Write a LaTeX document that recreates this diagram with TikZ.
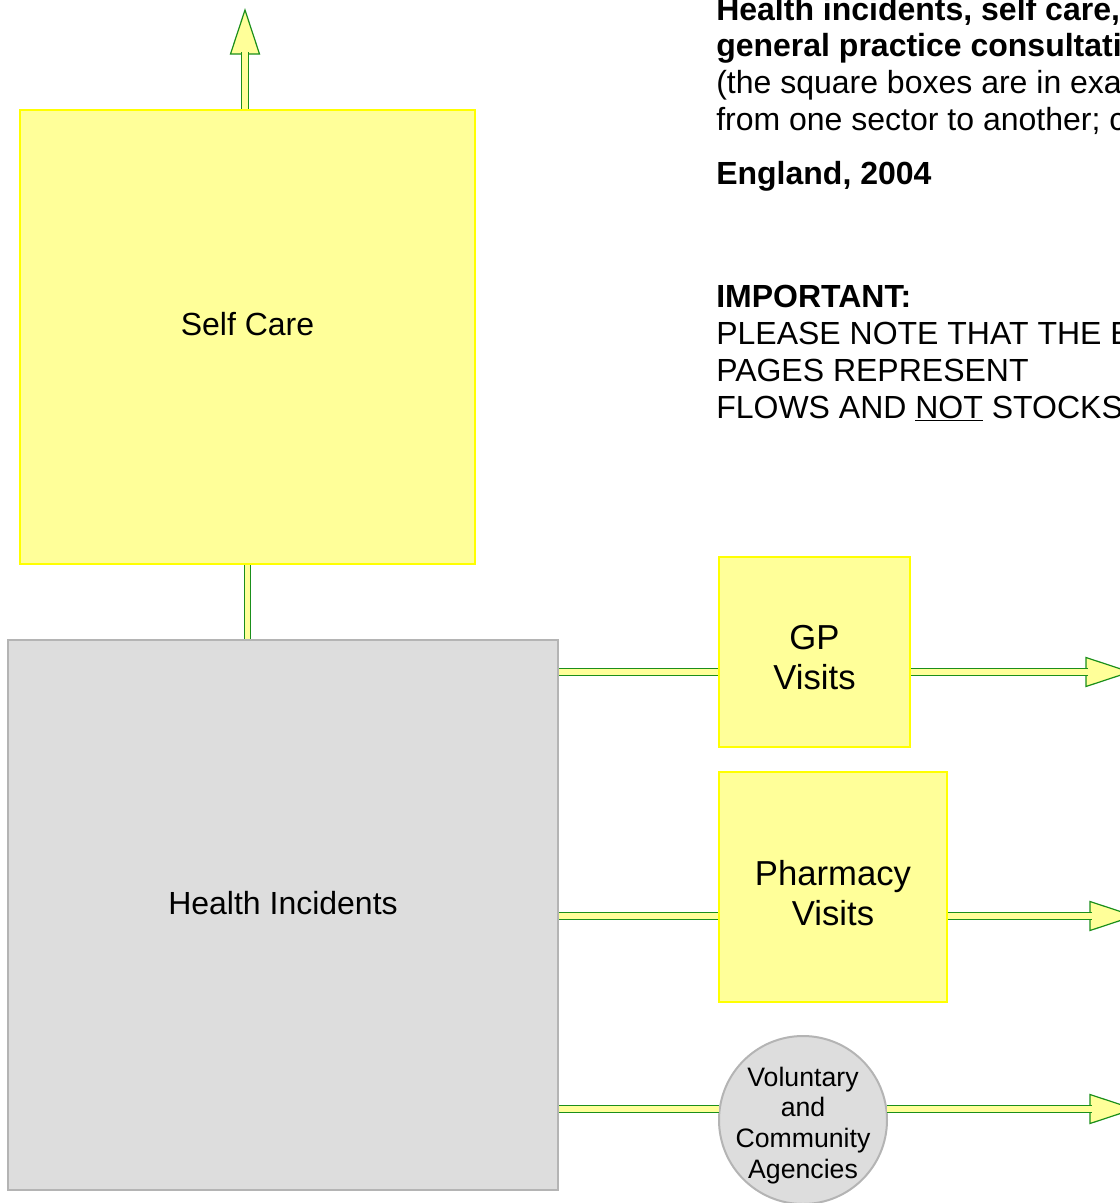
\documentclass[tikz,border=0pt]{standalone}
\usepackage{fontspec}
\setmainfont{Liberation Sans}
\definecolor{boxyellow}{HTML}{FFFF99}
\definecolor{edgeyellow}{HTML}{FFFF00}
\definecolor{boxgrey}{HTML}{DDDDDD}
\definecolor{edgegrey}{HTML}{B4B4B4}
\definecolor{flowgreen}{HTML}{1B8F1B}

\tikzset{
  sectorbox/.style={draw=edgeyellow, fill=boxyellow, line width=1.5pt, inner sep=0pt},
  incidentbox/.style={draw=edgegrey, fill=boxgrey, line width=1.5pt, inner sep=0pt},
  flow/.style={draw=flowgreen, double=boxyellow, line width=0.75pt, double distance=3.9pt},
  flowhead/.pic={\filldraw[draw=flowgreen, fill=boxyellow, line width=0.9pt] (-2,14.5) -- (42,0) -- (-2,-14.5) -- cycle;},
  bigtxt/.style={font=\fontsize{24}{28}\selectfont},
  midtxt/.style={font=\fontsize{26}{30}\selectfont, align=center},
  smalltxt/.style={font=\fontsize{20}{23}\selectfont, align=center},
  notetxt/.style={font=\fontsize{24}{27.4}\selectfont, align=left, anchor=base west, inner sep=0pt},
}

\begin{document}
\begin{tikzpicture}[x=0.75pt, y=-0.75pt]
  \useasboundingbox (0,0) rectangle (1120,1203);
  \clip (0,0) rectangle (1120,1203);

  % Sectors
  \node[sectorbox, minimum width=341.25pt, minimum height=340.5pt,
        label={[bigtxt, yshift=9.75pt]center:Self Care}] (sc) at (247.5,337) {};
  \node[incidentbox, minimum width=412.5pt, minimum height=412.5pt,
        label={[bigtxt, yshift=9pt]center:Health Incidents}] (hi) at (283,915) {};
  \node[sectorbox, minimum width=143.25pt, minimum height=142.5pt,
        label={[midtxt, yshift=-4pt]center:GP\\Visits}] (gp) at (814.5,652) {};
  \node[sectorbox, minimum width=171pt, minimum height=172.5pt,
        label={[midtxt, yshift=-4.5pt]center:Pharmacy\\Visits}] (ph) at (833,887) {};
  \node[circle, incidentbox, minimum size=126pt,
        label={[smalltxt, yshift=-4pt]center:Voluntary\\and\\Community\\Agencies}] (vca) at (803,1120) {};

  % Notes (base = last line)
  \node[notetxt] (title) at (716,130) {\textbf{Health incidents, self care,}\\\textbf{general practice consultati}\\(the square boxes are in exa\\from one sector to another; c};
  \node[notetxt] (year) at (716,184) {\textbf{England, 2004}};
  \node[notetxt, font=\fontsize{24}{27.6}\selectfont] (note) at (716,418) {\textbf{IMPORTANT:}\\PLEASE NOTE THAT THE E\\PAGES REPRESENT\\FLOWS AND \underline{NOT} STOCKS};

  % Arrow heads
  \coordinate (scend) at (245,52);
  \coordinate (gpend) at (1088,672);
  \coordinate (phend) at (1092,916);
  \coordinate (vcaend) at (1092,1109);
  \pic[rotate=90] at (scend) {flowhead};
  \foreach \e in {gpend, phend, vcaend}
    \pic at (\e) {flowhead};

  % Flows
  \draw[flow] (sc.north -| scend) -- (scend);
  \draw[flow] (sc.south) -- (sc.south |- hi.north);
  \draw[flow] (hi.east |- gpend) -- (gp.west |- gpend);
  \draw[flow] (gp.east |- gpend) -- (gpend);
  \draw[flow] (hi.east |- phend) -- (ph.west |- phend);
  \draw[flow] (ph.east |- phend) -- (phend);
  \draw[flow] (hi.east |- vcaend) -- (vca.172 |- vcaend);
  \draw[flow] (vca.8 |- vcaend) -- (vcaend);
\end{tikzpicture}
\end{document}
